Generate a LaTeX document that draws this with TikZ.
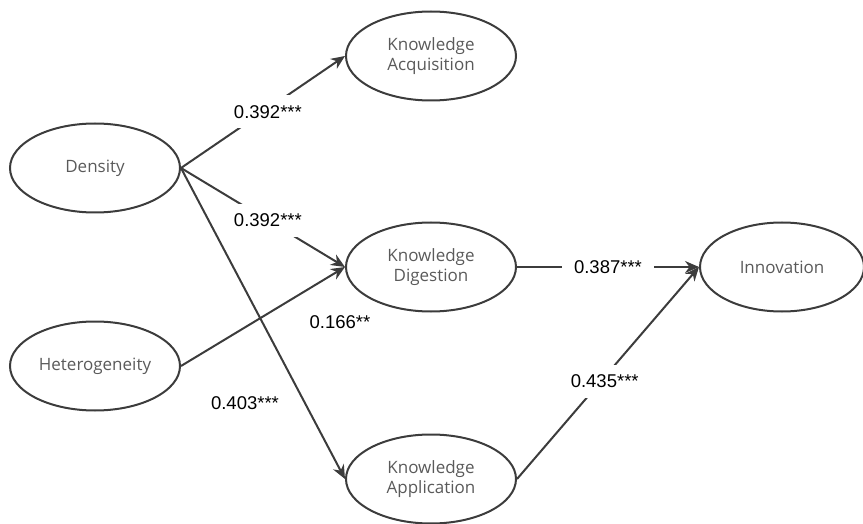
\documentclass[tikz,border=0pt]{standalone}
\usepackage{fontspec}
\setmainfont{Liberation Sans}
\newfontfamily\constructfont{Open Sans}
\usetikzlibrary{shapes.geometric,arrows.meta}
\definecolor{edgegray}{HTML}{3C3C3C}
\definecolor{textgray}{HTML}{5A5A5A}
\begin{document}
\begin{tikzpicture}[x=1pt,y=-1pt,
  construct/.style={ellipse,draw=edgegray,line width=2pt,minimum width=170pt,minimum height=89pt,
    inner sep=0pt,align=center,font=\constructfont\fontsize{17}{20}\selectfont,text=textgray},
  path/.style={draw=edgegray,line width=2pt,-{Stealth[length=14pt,width=12pt]}},
  coef/.style={font=\fontsize{18.5}{21}\selectfont,text=black,fill=white,inner xsep=12pt,inner ysep=10pt}]
\useasboundingbox (0,0) rectangle (863,524);
% latent constructs
\node[construct] (dens) at (95,168) {Density};
\node[construct] (het) at (95,366) {Heterogeneity};
\node[construct] (acq) at (431,56) {Knowledge\\Acquisition};
\node[construct] (dig) at (431,267) {Knowledge\\Digestion};
\node[construct] (app) at (431,479) {Knowledge\\Application};
\node[construct,minimum width=164pt] (inn) at (782,267) {Innovation};
% structural paths
\draw[path] (dens.east) -- node[coef,pos=0.53,yshift=-3pt] {0.392***} (acq.west);
\draw[path] (dens.east) -- node[coef,pos=0.53] {0.392***} (dig.west);
\draw[path] (dens.east) -- (app.west);
\draw[path] (het.east) -- (dig.west);
\draw[path] (dig.east) -- node[coef] {0.387***} (inn.west);
\draw[path] (app.east) -- node[coef,pos=0.46,xshift=4pt] {0.435***} (inn.west);
% coefficients placed beside their paths
\node[coef,fill=none] (c166) at (340,322) {0.166**};
\node[coef,fill=none] (c403) at (245,403) {0.403***};
\end{tikzpicture}
\end{document}
